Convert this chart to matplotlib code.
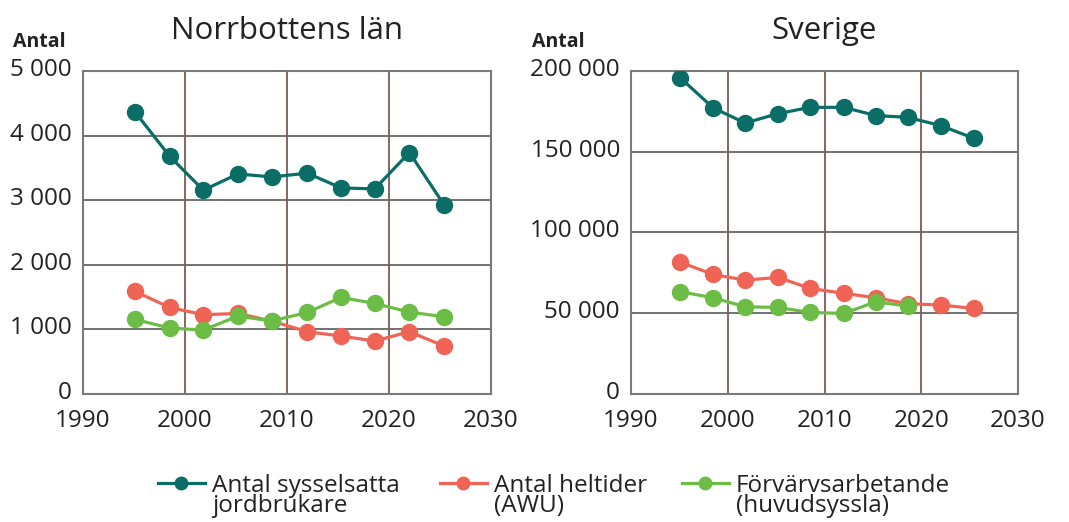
import matplotlib
matplotlib.use("Agg")
import matplotlib.pyplot as plt
import matplotlib.transforms as mtrans
from matplotlib.lines import Line2D
from matplotlib.ticker import FuncFormatter, MultipleLocator

plt.rcParams['font.family'] = ['Open Sans', 'DejaVu Sans']

# Data
years = [1995.1, 1998.5, 2001.8, 2005.2, 2008.5, 2012.0, 2015.3, 2018.6, 2022.0, 2025.4]

nb_sysselsatta = [4366, 3680, 3155, 3407, 3360, 3418, 3190, 3175, 3737, 2928]
nb_heltider = [1588, 1340, 1227, 1247, 1129, 964, 897, 820, 964, 742]
nb_forvarv = [1155, 1021, 990, 1206, 1130, 1263, 1495, 1402, 1268, 1196]

se_sysselsatta = [195700, 177100, 167800, 173600, 177500, 177500, 172400, 171300, 166200, 158400]
se_heltider = [81600, 74000, 70500, 72200, 65400, 62300, 59600, 55900, 55100, 53000]
se_forvarv = [63300, 59600, 54000, 53600, 50500, 49900, 57100, 54400]

labels = [('Antal sysselsatta', 'jordbrukare'), ('Antal heltider', '(AWU)'),
          ('Förvärvsarbetande', '(huvudsyssla)')]
colors = ['#0a6e66', '#f06455', '#6cbd45']

TEXT = '#222222'
W, H = 1069, 522


def fmt(v, pos):
    return '{:,}'.format(int(v)).replace(',', ' ')


def fx(px):
    return px / W


def fy(py):
    return 1 - py / H


fig = plt.figure(figsize=(W / 100, H / 100), dpi=100)
ax1 = fig.add_axes([0.0776, 0.2452, 0.3817, 0.6188])
ax2 = fig.add_axes([0.5903, 0.2452, 0.362, 0.6188])


def style(ax, ymax, ystep, title):
    ax.set_xlim(1990, 2030)
    ax.set_ylim(0, ymax)
    ax.xaxis.set_major_locator(MultipleLocator(10))
    ax.yaxis.set_major_locator(MultipleLocator(ystep))
    ax.yaxis.set_major_formatter(FuncFormatter(fmt))
    ax.tick_params(length=0, labelsize=17.5, colors=TEXT, pad=8)
    ax.tick_params(axis='x', pad=11)
    for s in ax.spines.values():
        s.set_color('#7a7a7a')
        s.set_linewidth(1.5)
    for yv in range(ystep, ymax, ystep):
        ax.axhline(yv, color='#666666', lw=1.3, zorder=1)
    for xv in [2000, 2010, 2020]:
        ax.axvline(xv, color='#7b5d55', lw=1.3, zorder=1)
    # labels sit slightly above their gridline
    off = mtrans.ScaledTranslation(0, 4 / 100, fig.dpi_scale_trans)
    for lab in ax.get_yticklabels():
        lab.set_transform(lab.get_transform() + off)
    ax.set_title(title, fontsize=22.5, color=TEXT, pad=23)


def draw(ax, series):
    for vals, c in zip(series, colors):
        ax.plot(years[:len(vals)], vals, color=c, lw=2.3, marker='o',
                markersize=11.5, zorder=3)


draw(ax1, [nb_sysselsatta, nb_heltider, nb_forvarv])
draw(ax2, [se_sysselsatta, se_heltider, se_forvarv])
style(ax1, 5000, 1000, 'Norrbottens län')
style(ax2, 200000, 50000, 'Sverige')

fig.text(fx(13), fy(47), 'Antal', fontsize=14, fontweight='bold',
         color=TEXT, va='baseline')
fig.text(fx(532), fy(47), 'Antal', fontsize=14, fontweight='bold',
         color=TEXT, va='baseline')

# legend drawn by hand: handle aligned with the first text line
legend_x = [158, 440, 682]
for x0, (line1, line2), c in zip(legend_x, labels, colors):
    fig.add_artist(Line2D([fx(x0), fx(x0 + 47)], [fy(483), fy(483)],
                          transform=fig.transFigure, color=c, lw=2.3))
    fig.add_artist(Line2D([fx(x0 + 23)], [fy(483)], transform=fig.transFigure,
                          color=c, marker='o', markersize=9, lw=0))
    fig.text(fx(x0 + 54), fy(492), line1, fontsize=17.5, color=TEXT,
             va='baseline', ha='left')
    fig.text(fx(x0 + 54), fy(512), line2, fontsize=17.5, color=TEXT,
             va='baseline', ha='left')

fig.savefig('out.png', dpi=100)
